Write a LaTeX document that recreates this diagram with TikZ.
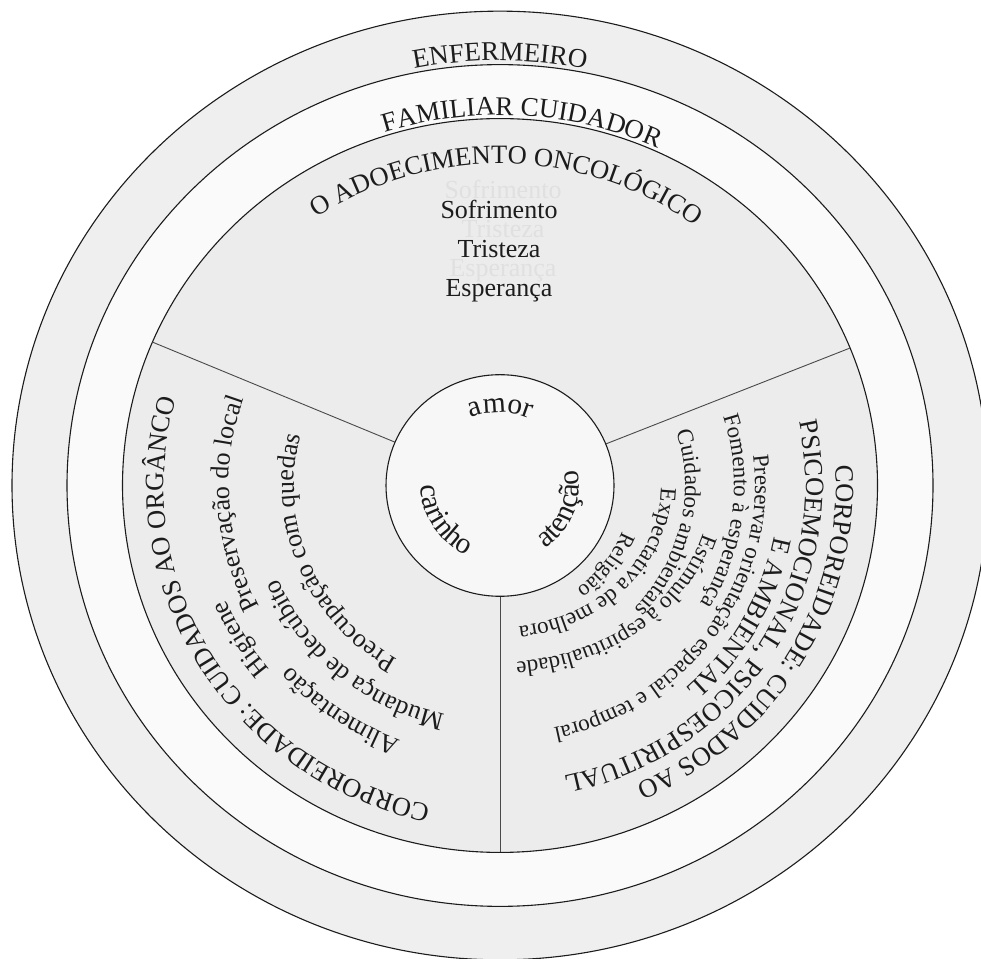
\documentclass[tikz,border=0pt]{standalone}
\usepackage{fontspec}
\setmainfont{Liberation Serif}
\usetikzlibrary{decorations.text}
\definecolor{ringA}{HTML}{EFEFEF}
\definecolor{ringB}{HTML}{FAFAFA}
\definecolor{sectorfill}{HTML}{ECECEC}
\definecolor{corefill}{HTML}{F7F7F7}
\definecolor{ink}{HTML}{1C1C1C}
\definecolor{ghost}{HTML}{E0E0E0}
\newcommand\fring{\fontsize{27}{30}\selectfont\color{ink}}
\newcommand\fbig{\fontsize{26.5}{30}\selectfont\color{ink}}
\newcommand\fmid{\fontsize{26}{30}\selectfont\color{ink}}
\newcommand\fcore{\fontsize{29.5}{32}\selectfont\color{ink}}
\newcommand\fsmall{\fontsize{23}{27}\selectfont\color{ink}}
\newcommand\ftiny{\fontsize{22}{26}\selectfont\color{ink}}
% clockwise arc text, letter tops outward: font, radius, centre angle, text
\newcommand\cwarc[4]{%
  \path[decorate, decoration={text along path, text={|#1|#4}, text align=center}]
    ({#3+85}:#2) arc[start angle={#3+85}, end angle={#3-85}, radius=#2];}
% clockwise elliptic text starting at a given angle: font, x radius, y radius, start angle, text
\newcommand\cwell[5]{%
  \path[decorate, decoration={text along path, text={|#1|#5}, text align=left}]
    ({#4}:#2 and #3) arc[start angle={#4}, end angle={#4-130}, x radius=#2, y radius=#3];}
% counter-clockwise arc text, letter tops inward
\newcommand\ccwarc[4]{%
  \path[decorate, decoration={text along path, text={|#1|#4}, text align=center}]
    ({#3-85}:#2) arc[start angle={#3-85}, end angle={#3+85}, radius=#2];}
\begin{document}
\begin{tikzpicture}[x=1pt,y=1pt,
  ringline/.style={draw=ink, line width=1.1pt},
  divider/.style={draw=ink!80, line width=0.9pt},
  plain/.style={font=\fmid, text=ink, inner sep=0pt, anchor=base},
  ghosttext/.style={font=\fontsize{26}{30}\selectfont, text=ghost, inner sep=0pt, anchor=base}]
\useasboundingbox (0,0) rectangle (981,958);
\fill[white] (0,0) rectangle (981,958);
\begin{scope}[shift={(500,472.5)}, yscale=0.972]
  \filldraw[fill=ringA, ringline] (0,0) circle[radius=488];
  \filldraw[fill=ringB, ringline] (0,0) circle[radius=433];
  \filldraw[fill=sectorfill, ringline] (0,0) circle[radius=377.5];
  \coordinate (c) at (0,0);
  \draw[divider] (22:114) -- (22:377.5);
  \draw[divider] (157:114) -- (157:377.5);
  \draw[divider] (270:114) -- (270:377.5);
  \filldraw[fill=corefill, ringline] (0,0) circle[radius=114];
  % rings
  \cwarc{\fring}{437}{90}{ENFERMEIRO}
  \cwarc{\fring}{381}{86.5}{FAMILIAR CUIDADOR}
  \cwarc{\fbig}{331}{88.7}{O ADOECIMENTO ONCOLÓGICO}
  % left sector
  \cwarc{\fbig}{336}{211}{CORPOREIDADE: CUIDADOS AO ORGÂNCO}
  \cwarc{\fmid}{298}{210.6}{Higiene}
  \cwarc{\fmid}{280}{234.7}{Alimentação}
  \cwarc{\fmid}{271}{184}{Preservação do local}
  \cwarc{\fmid}{242}{229.4}{Mudança de decúbito}
  \cwarc{\fmid}{206}{202.5}{Preocupação com quedas}
  % right sector
  \cwarc{\fbig}{336}{-30.8}{CORPOREIDADE: CUIDADOS AO}
  \cwarc{\fbig}{306}{-32.5}{PSICOEMOCIONAL, PSICOESPIRITUAL}
  \cwarc{\fbig}{279}{-29}{E AMBIENTAL}
  \cwarc{\fsmall}{255}{-35}{Preservar orientação espacial e temporal}
  \cwarc{\fsmall}{234}{-6.6}{Fomento à esperança}
  \cwell{\fsmall}{211}{182}{-15.8}{Estímulo à espiritualidade}
  \cwarc{\fsmall}{185}{-12.7}{Cuidados ambientais}
  \cwell{\fsmall}{161}{146}{-1}{Expectativa de melhora}
  \cwarc{\ftiny}{131}{-37}{Religião}
  % core
  \cwarc{\fcore}{75}{89.5}{amor}
  \ccwarc{\fcore}{79}{212}{carinho}
  \ccwarc{\fcore}{79}{-21}{atenção}
\end{scope}
% faint duplicate lines
\node[ghosttext] (g1) at (503,759) {Sofrimento};
\node[ghosttext] (g2) at (503,720) {Tristeza};
\node[ghosttext] (g3) at (503,681) {Esperança};
% feelings
\node[plain] (sof) at (499,739) {Sofrimento};
\node[plain] (tri) at (499,700) {Tristeza};
\node[plain] (esp) at (499,661) {Esperança};
\end{tikzpicture}
\end{document}
